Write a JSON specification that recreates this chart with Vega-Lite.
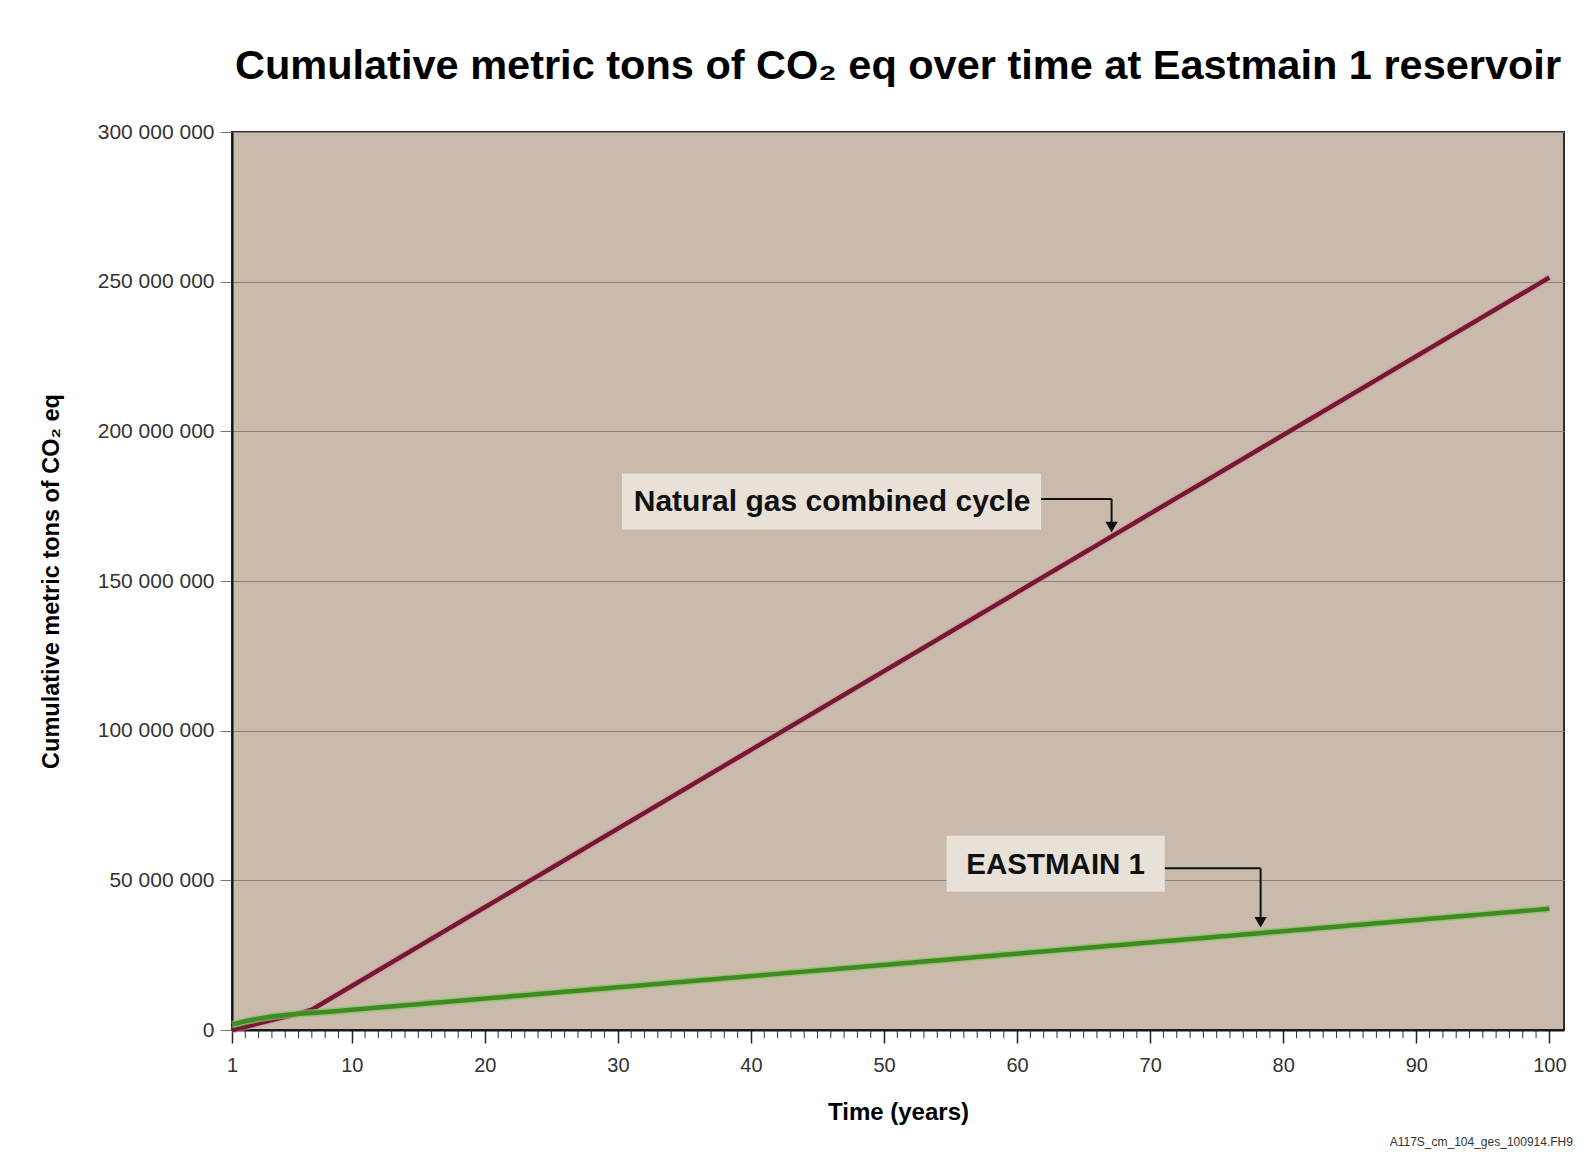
{
  "$schema": "https://vega.github.io/schema/vega-lite/v6.json",
  "width": 1332,
  "height": 898,
  "autosize": {"type": "none"},
  "padding": {"left": 232, "top": 132, "right": 31, "bottom": 127},
  "background": "#ffffff",
  "config": {
    "font": "Liberation Sans",
    "locale": {"number": {"decimal": ".", "thousands": " ", "grouping": [3], "currency": ["", ""]}},
    "view": {"fill": "#c9baac", "stroke": "#2b2b2b", "strokeWidth": 2}
  },
  "title": {
    "text": "Cumulative metric tons of CO₂ eq over time at Eastmain 1 reservoir",
    "font": "Liberation Sans",
    "fontSize": 41.5,
    "fontWeight": "bold",
    "color": "#000000",
    "anchor": "middle",
    "frame": "group",
    "baseline": "alphabetic",
    "offset": 1
  },
  "datasets": {
    "ng": [
      {"year": 1, "tons": 0}, {"year": 2, "tons": 1100000}, {"year": 3, "tons": 2200000}, {"year": 4, "tons": 3300000}, {"year": 5, "tons": 4400000},
      {"year": 6, "tons": 5500000}, {"year": 7, "tons": 6800000}, {"year": 8, "tons": 9430000}, {"year": 9, "tons": 12060000}, {"year": 10, "tons": 14690000},
      {"year": 11, "tons": 17320000}, {"year": 12, "tons": 19950000}, {"year": 13, "tons": 22580000}, {"year": 14, "tons": 25210000}, {"year": 15, "tons": 27840000},
      {"year": 16, "tons": 30470000}, {"year": 17, "tons": 33100000}, {"year": 18, "tons": 35730000}, {"year": 19, "tons": 38360000}, {"year": 20, "tons": 40990000},
      {"year": 21, "tons": 43620000}, {"year": 22, "tons": 46250000}, {"year": 23, "tons": 48880000}, {"year": 24, "tons": 51510000}, {"year": 25, "tons": 54140000},
      {"year": 26, "tons": 56770000}, {"year": 27, "tons": 59400000}, {"year": 28, "tons": 62030000}, {"year": 29, "tons": 64660000}, {"year": 30, "tons": 67290000},
      {"year": 31, "tons": 69920000}, {"year": 32, "tons": 72550000}, {"year": 33, "tons": 75180000}, {"year": 34, "tons": 77810000}, {"year": 35, "tons": 80440000},
      {"year": 36, "tons": 83070000}, {"year": 37, "tons": 85700000}, {"year": 38, "tons": 88330000}, {"year": 39, "tons": 90960000}, {"year": 40, "tons": 93590000},
      {"year": 41, "tons": 96220000}, {"year": 42, "tons": 98850000}, {"year": 43, "tons": 101480000}, {"year": 44, "tons": 104110000}, {"year": 45, "tons": 106740000},
      {"year": 46, "tons": 109370000}, {"year": 47, "tons": 112000000}, {"year": 48, "tons": 114630000}, {"year": 49, "tons": 117260000}, {"year": 50, "tons": 119890000},
      {"year": 51, "tons": 122520000}, {"year": 52, "tons": 125150000}, {"year": 53, "tons": 127780000}, {"year": 54, "tons": 130410000}, {"year": 55, "tons": 133040000},
      {"year": 56, "tons": 135670000}, {"year": 57, "tons": 138300000}, {"year": 58, "tons": 140930000}, {"year": 59, "tons": 143560000}, {"year": 60, "tons": 146190000},
      {"year": 61, "tons": 148820000}, {"year": 62, "tons": 151450000}, {"year": 63, "tons": 154080000}, {"year": 64, "tons": 156710000}, {"year": 65, "tons": 159340000},
      {"year": 66, "tons": 161970000}, {"year": 67, "tons": 164600000}, {"year": 68, "tons": 167230000}, {"year": 69, "tons": 169860000}, {"year": 70, "tons": 172490000},
      {"year": 71, "tons": 175120000}, {"year": 72, "tons": 177750000}, {"year": 73, "tons": 180380000}, {"year": 74, "tons": 183010000}, {"year": 75, "tons": 185640000},
      {"year": 76, "tons": 188270000}, {"year": 77, "tons": 190900000}, {"year": 78, "tons": 193530000}, {"year": 79, "tons": 196160000}, {"year": 80, "tons": 198790000},
      {"year": 81, "tons": 201420000}, {"year": 82, "tons": 204050000}, {"year": 83, "tons": 206680000}, {"year": 84, "tons": 209310000}, {"year": 85, "tons": 211940000},
      {"year": 86, "tons": 214570000}, {"year": 87, "tons": 217200000}, {"year": 88, "tons": 219830000}, {"year": 89, "tons": 222460000}, {"year": 90, "tons": 225090000},
      {"year": 91, "tons": 227720000}, {"year": 92, "tons": 230350000}, {"year": 93, "tons": 232980000}, {"year": 94, "tons": 235610000}, {"year": 95, "tons": 238240000},
      {"year": 96, "tons": 240870000}, {"year": 97, "tons": 243500000}, {"year": 98, "tons": 246130000}, {"year": 99, "tons": 248760000}, {"year": 100, "tons": 251390000}
    ],
    "em": [
      {"year": 1, "tons": 1800000}, {"year": 2, "tons": 2900000}, {"year": 3, "tons": 3800000}, {"year": 4, "tons": 4500000}, {"year": 5, "tons": 5000000},
      {"year": 6, "tons": 5400000}, {"year": 7, "tons": 5700000}, {"year": 8, "tons": 6000000}, {"year": 9, "tons": 6380000}, {"year": 10, "tons": 6750000},
      {"year": 11, "tons": 7130000}, {"year": 12, "tons": 7500000}, {"year": 13, "tons": 7880000}, {"year": 14, "tons": 8250000}, {"year": 15, "tons": 8630000},
      {"year": 16, "tons": 9000000}, {"year": 17, "tons": 9380000}, {"year": 18, "tons": 9750000}, {"year": 19, "tons": 10130000}, {"year": 20, "tons": 10500000},
      {"year": 21, "tons": 10880000}, {"year": 22, "tons": 11250000}, {"year": 23, "tons": 11630000}, {"year": 24, "tons": 12000000}, {"year": 25, "tons": 12380000},
      {"year": 26, "tons": 12750000}, {"year": 27, "tons": 13130000}, {"year": 28, "tons": 13500000}, {"year": 29, "tons": 13880000}, {"year": 30, "tons": 14250000},
      {"year": 31, "tons": 14630000}, {"year": 32, "tons": 15000000}, {"year": 33, "tons": 15380000}, {"year": 34, "tons": 15750000}, {"year": 35, "tons": 16130000},
      {"year": 36, "tons": 16500000}, {"year": 37, "tons": 16880000}, {"year": 38, "tons": 17250000}, {"year": 39, "tons": 17630000}, {"year": 40, "tons": 18000000},
      {"year": 41, "tons": 18380000}, {"year": 42, "tons": 18750000}, {"year": 43, "tons": 19130000}, {"year": 44, "tons": 19500000}, {"year": 45, "tons": 19880000},
      {"year": 46, "tons": 20250000}, {"year": 47, "tons": 20630000}, {"year": 48, "tons": 21000000}, {"year": 49, "tons": 21380000}, {"year": 50, "tons": 21750000},
      {"year": 51, "tons": 22130000}, {"year": 52, "tons": 22500000}, {"year": 53, "tons": 22880000}, {"year": 54, "tons": 23250000}, {"year": 55, "tons": 23630000},
      {"year": 56, "tons": 24000000}, {"year": 57, "tons": 24380000}, {"year": 58, "tons": 24750000}, {"year": 59, "tons": 25130000}, {"year": 60, "tons": 25500000},
      {"year": 61, "tons": 25880000}, {"year": 62, "tons": 26250000}, {"year": 63, "tons": 26630000}, {"year": 64, "tons": 27000000}, {"year": 65, "tons": 27380000},
      {"year": 66, "tons": 27750000}, {"year": 67, "tons": 28130000}, {"year": 68, "tons": 28500000}, {"year": 69, "tons": 28880000}, {"year": 70, "tons": 29250000},
      {"year": 71, "tons": 29630000}, {"year": 72, "tons": 30000000}, {"year": 73, "tons": 30380000}, {"year": 74, "tons": 30750000}, {"year": 75, "tons": 31130000},
      {"year": 76, "tons": 31500000}, {"year": 77, "tons": 31880000}, {"year": 78, "tons": 32250000}, {"year": 79, "tons": 32630000}, {"year": 80, "tons": 33000000},
      {"year": 81, "tons": 33380000}, {"year": 82, "tons": 33750000}, {"year": 83, "tons": 34130000}, {"year": 84, "tons": 34500000}, {"year": 85, "tons": 34880000},
      {"year": 86, "tons": 35250000}, {"year": 87, "tons": 35630000}, {"year": 88, "tons": 36000000}, {"year": 89, "tons": 36380000}, {"year": 90, "tons": 36750000},
      {"year": 91, "tons": 37130000}, {"year": 92, "tons": 37500000}, {"year": 93, "tons": 37880000}, {"year": 94, "tons": 38250000}, {"year": 95, "tons": 38630000},
      {"year": 96, "tons": 39000000}, {"year": 97, "tons": 39380000}, {"year": 98, "tons": 39750000}, {"year": 99, "tons": 40130000}, {"year": 100, "tons": 40500000}
    ],
    "minor": [
      {"year": 2}, {"year": 3}, {"year": 4}, {"year": 5}, {"year": 6}, {"year": 7}, {"year": 8}, {"year": 9},
      {"year": 11}, {"year": 12}, {"year": 13}, {"year": 14}, {"year": 15}, {"year": 16}, {"year": 17}, {"year": 18}, {"year": 19},
      {"year": 21}, {"year": 22}, {"year": 23}, {"year": 24}, {"year": 25}, {"year": 26}, {"year": 27}, {"year": 28}, {"year": 29},
      {"year": 31}, {"year": 32}, {"year": 33}, {"year": 34}, {"year": 35}, {"year": 36}, {"year": 37}, {"year": 38}, {"year": 39},
      {"year": 41}, {"year": 42}, {"year": 43}, {"year": 44}, {"year": 45}, {"year": 46}, {"year": 47}, {"year": 48}, {"year": 49},
      {"year": 51}, {"year": 52}, {"year": 53}, {"year": 54}, {"year": 55}, {"year": 56}, {"year": 57}, {"year": 58}, {"year": 59},
      {"year": 61}, {"year": 62}, {"year": 63}, {"year": 64}, {"year": 65}, {"year": 66}, {"year": 67}, {"year": 68}, {"year": 69},
      {"year": 71}, {"year": 72}, {"year": 73}, {"year": 74}, {"year": 75}, {"year": 76}, {"year": 77}, {"year": 78}, {"year": 79},
      {"year": 81}, {"year": 82}, {"year": 83}, {"year": 84}, {"year": 85}, {"year": 86}, {"year": 87}, {"year": 88}, {"year": 89},
      {"year": 91}, {"year": 92}, {"year": 93}, {"year": 94}, {"year": 95}, {"year": 96}, {"year": 97}, {"year": 98}, {"year": 99}
    ],
    "boxes": [
      {"label": "Natural gas combined cycle", "x0": 30.3, "x1": 61.8, "y0": 167200000, "y1": 185900000, "tx": 46.1, "ty": 176400000, "size": 30},
      {"label": "EASTMAIN 1", "x0": 54.7, "x1": 71.1, "y0": 46200000, "y1": 64900000, "tx": 62.9, "ty": 55200000, "size": 29.5}
    ],
    "segments": [
      {"x0": 61.8, "x1": 67.1, "y0": 177400000, "y1": 177400000},
      {"x0": 67.1, "x1": 67.1, "y0": 177400000, "y1": 169500000},
      {"x0": 71.1, "x1": 78.3, "y0": 54000000, "y1": 54000000},
      {"x0": 78.3, "x1": 78.3, "y0": 54000000, "y1": 37500000}
    ],
    "heads": [
      {"x": 67.1, "y": 168000000},
      {"x": 78.3, "y": 36000000}
    ],
    "notes": [
      {"x": 88.0, "y": -37400000, "text": "A117S_cm_104_ges_100914.FH9"}
    ]
  },
  "layer": [
    {
      "data": {"name": "ng"},
      "mark": {"type": "line", "color": "#d596a6", "strokeWidth": 7.5, "opacity": 0.55},
      "encoding": {
        "x": {
          "field": "year", "type": "quantitative",
          "scale": {"domain": [1, 101.1], "nice": false, "zero": false},
          "axis": {
            "orient": "bottom",
            "values": [1, 10, 20, 30, 40, 50, 60, 70, 80, 90, 100],
            "title": "Time (years)",
            "titleFont": "Liberation Sans", "titleFontSize": 24, "titleFontWeight": "bold", "titleColor": "#000000", "titlePadding": 25,
            "labelFont": "Liberation Sans", "labelFontSize": 20, "labelColor": "#333333", "labelPadding": 12,
            "labelFlush": false, "labelOverlap": false,
            "tickSize": 13, "tickWidth": 1.5, "tickColor": "#222222",
            "domainColor": "#111111", "domainWidth": 2,
            "grid": false
          }
        },
        "y": {
          "field": "tons", "type": "quantitative",
          "scale": {"domain": [0, 300000000], "nice": false},
          "axis": {
            "values": [0, 50000000, 100000000, 150000000, 200000000, 250000000, 300000000],
            "format": ",d",
            "title": "Cumulative metric tons of CO₂ eq",
            "titleFont": "Liberation Sans", "titleFontSize": 23.5, "titleFontWeight": "bold", "titleColor": "#000000", "titlePadding": 34,
            "labelFont": "Liberation Sans", "labelFontSize": 21, "labelColor": "#333333", "labelPadding": 6,
            "tickSize": 12, "tickColor": "#777777", "tickWidth": 1,
            "domainColor": "#111111", "domainWidth": 2,
            "grid": true, "gridColor": "#8a8179", "gridWidth": 1
          }
        }
      }
    },
    {
      "data": {"name": "ng"},
      "mark": {"type": "line", "color": "#741834", "strokeWidth": 4.5},
      "encoding": {
        "x": {"field": "year", "type": "quantitative"},
        "y": {"field": "tons", "type": "quantitative"}
      }
    },
    {
      "data": {"name": "em"},
      "mark": {"type": "line", "color": "#86c45c", "strokeWidth": 7.5, "opacity": 0.7},
      "encoding": {
        "x": {"field": "year", "type": "quantitative"},
        "y": {"field": "tons", "type": "quantitative"}
      }
    },
    {
      "data": {"name": "em"},
      "mark": {"type": "line", "color": "#3f8a24", "strokeWidth": 4.5},
      "encoding": {
        "x": {"field": "year", "type": "quantitative"},
        "y": {"field": "tons", "type": "quantitative"}
      }
    },
    {
      "data": {"name": "minor"},
      "mark": {"type": "rule", "color": "#333333", "strokeWidth": 1, "clip": false},
      "encoding": {
        "x": {"field": "year", "type": "quantitative"},
        "y": {"datum": 0, "type": "quantitative"},
        "y2": {"datum": -2700000}
      }
    },
    {
      "data": {"name": "boxes"},
      "mark": {"type": "rect", "color": "#e7e1d7"},
      "encoding": {
        "x": {"field": "x0", "type": "quantitative"},
        "x2": {"field": "x1"},
        "y": {"field": "y0", "type": "quantitative"},
        "y2": {"field": "y1"}
      }
    },
    {
      "data": {"name": "boxes"},
      "mark": {"type": "text", "font": "Liberation Sans", "fontWeight": "bold", "color": "#111111", "align": "center", "baseline": "middle"},
      "encoding": {
        "x": {"field": "tx", "type": "quantitative"},
        "y": {"field": "ty", "type": "quantitative"},
        "text": {"field": "label"},
        "size": {"field": "size", "type": "quantitative", "scale": null}
      }
    },
    {
      "data": {"name": "segments"},
      "mark": {"type": "rule", "color": "#111111", "strokeWidth": 2},
      "encoding": {
        "x": {"field": "x0", "type": "quantitative"},
        "x2": {"field": "x1"},
        "y": {"field": "y0", "type": "quantitative"},
        "y2": {"field": "y1"}
      }
    },
    {
      "data": {"name": "heads"},
      "mark": {"type": "point", "shape": "triangle-down", "filled": true, "color": "#111111", "size": 150, "opacity": 1},
      "encoding": {
        "x": {"field": "x", "type": "quantitative"},
        "y": {"field": "y", "type": "quantitative"}
      }
    },
    {
      "data": {"name": "notes"},
      "mark": {"type": "text", "font": "Liberation Sans", "fontSize": 12, "color": "#333333", "align": "left", "baseline": "middle", "clip": false},
      "encoding": {
        "x": {"field": "x", "type": "quantitative"},
        "y": {"field": "y", "type": "quantitative"},
        "text": {"field": "text"}
      }
    }
  ]
}
